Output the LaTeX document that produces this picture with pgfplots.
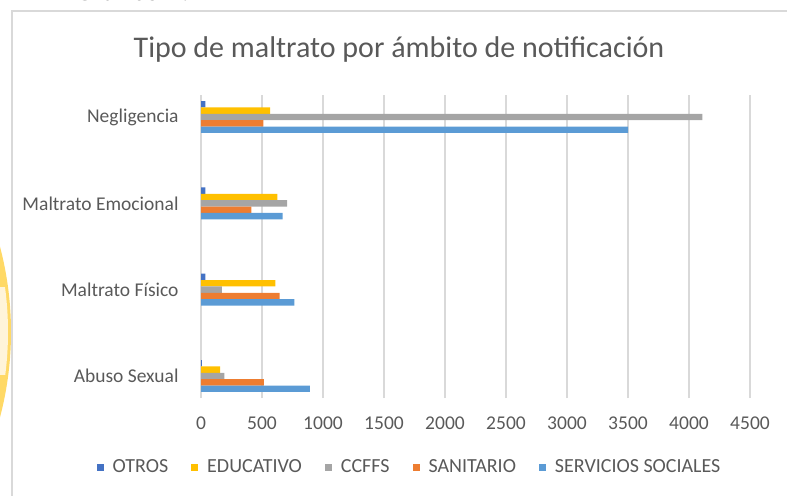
\documentclass[border=0pt]{standalone}
\usepackage{fontspec}
\setmainfont{Carlito}
\usepackage{pgfplots}
\pgfplotsset{compat=1.18}
\definecolor{txt}{HTML}{595959}
\definecolor{gridc}{HTML}{D9D9D9}
\definecolor{cotros}{HTML}{4472C4}
\definecolor{cedu}{HTML}{FFC000}
\definecolor{cccffs}{HTML}{A5A5A5}
\definecolor{csan}{HTML}{ED7D31}
\definecolor{cserv}{HTML}{5B9BD5}
\definecolor{wmy}{HTML}{FFD966}
\definecolor{wmp}{HTML}{FFF4D9}
\begin{document}
\begin{tikzpicture}
% decorative watermark at the left edge
\fill[wmy] (-323bp,164bp) circle (334bp);
\begin{scope}
\clip (0bp,121bp) rectangle (20bp,208bp);
\fill[wmp] (-323bp,164bp) circle (331bp);
\end{scope}
% chart frame
\draw[gridc, line width=2bp] (12bp,-5bp) -- (12bp,484.5bp) -- (800bp,484.5bp);
\node[anchor=base west, inner sep=0pt, font=\bfseries\fontsize{29bp}{34bp}\selectfont] at (74bp,495bp) {Gráfico 1:};
\node[font=\fontsize{30bp}{35bp}\selectfont, text=txt] at (399bp,446bp) {Tipo de maltrato por ámbito de notificación};
\begin{axis}[
  at={(201bp,98bp)}, anchor=south west,
  scale only axis, width=549bp, height=303bp,
  xmin=0, xmax=4500, ymin=-0.255, ymax=3.255,
  xtick={0,500,...,4500},
  ytick={0,1,2,3},
  yticklabels={Abuso Sexual, Maltrato Físico, Maltrato Emocional, Negligencia},
  xmajorgrids, major grid style={gridc, line width=1.2bp},
  axis line style={draw=none}, tick style={draw=none},
  /pgf/number format/assume math mode=true,
  /pgf/number format/set thousands separator={},
  tick label style={text=txt, font=\fontsize{19.5bp}{23bp}\selectfont, inner sep=0pt},
  xticklabel style={anchor=north, yshift=-19bp},
  yticklabel style={anchor=east, xshift=-18bp},
  xbar, bar width=0.074, bar shift=0pt,
  every axis plot/.append style={draw=none},
  legend columns=5,
  legend style={at={(axis description cs:0.379,-0.228)}, anchor=center,
    draw=none, fill=none, text=txt, font=\fontsize{20bp}{23bp}\selectfont,
    /tikz/every odd column/.append style={column sep=8bp},
    /tikz/every even column/.append style={column sep=22bp},
    nodes={inner sep=1bp}},
  legend image code/.code={\fill[#1, draw=none] (0bp,-3.5bp) rectangle (7bp,3.5bp);},
]
\addplot[fill=cotros] coordinates {(8,0.148) (36,1.148) (36,2.148) (35,3.148)};
\addplot[fill=cedu] coordinates {(156,0.074) (609,1.074) (626,2.074) (567,3.074)};
\addplot[fill=cccffs] coordinates {(191,0) (172,1) (705,2) (4110,3)};
\addplot[fill=csan] coordinates {(516,-0.074) (645,0.926) (413,1.926) (512,2.926)};
\addplot[fill=cserv] coordinates {(893,-0.148) (765,0.852) (669,1.852) (3500,2.852)};
\legend{OTROS, EDUCATIVO, CCFFS, SANITARIO, SERVICIOS SOCIALES}
\end{axis}
\pgfresetboundingbox
\useasboundingbox (0bp,0bp) rectangle (787bp,496bp);
\end{tikzpicture}
\end{document}
